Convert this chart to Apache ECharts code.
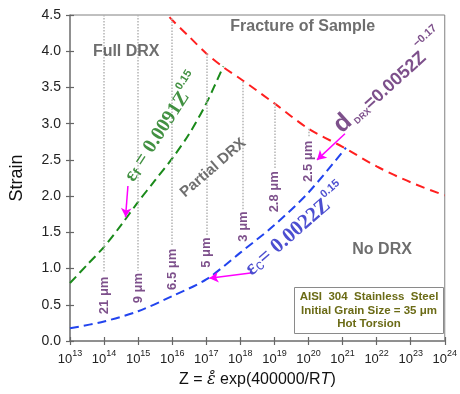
<!DOCTYPE html>
<html>
<head>
<meta charset="utf-8">
<script src="https://cdn.jsdelivr.net/npm/echarts@6/dist/echarts.min.js"></script>
<style>
  html, body { margin: 0; padding: 0; background: #fff; }
  #chart { width: 460px; height: 394px; }
</style>
</head>
<body>
<div id="chart"></div>
<script>
// Zener-Hollomon parameter given as log10(Z); strain on the y axis.
const fractureLogZ   = [15.92, 16, 16.5, 17, 17.5, 18, 19, 20, 21, 22, 23, 24];
const fractureStrain = [4.47, 4.43, 4.2, 3.97, 3.78, 3.62, 3.28, 2.93, 2.68, 2.41, 2.19, 2.01];

const fullDrxLogZ   = [13, 13.5, 14, 14.5, 15, 15.5, 16, 16.5, 17, 17.5];
const fullDrxStrain = [0.80, 1.05, 1.30, 1.60, 1.92, 2.22, 2.52, 2.86, 3.28, 3.79];

const criticalLogZ   = [13, 14, 15, 16, 17, 18, 19, 20, 21.1];
const criticalStrain = [0.175, 0.27, 0.41, 0.62, 0.85, 1.22, 1.60, 2.05, 2.67];

// DRX grain size read along constant-Z guides
const grainLogZ    = [14, 15, 16, 17, 18.08, 19, 20];
const grainLabels  = ['21 μm', '9 μm', '6.5 μm', '5 μm', '3 μm', '2.8 μm', '2.5 μm'];
const guideTop     = [4.5, 4.5, 4.45, 3.97, 3.58, 3.28, 2.93];
const guideBottom  = [0.95, 0.97, 1.32, 1.46, 1.82, 2.38, 2.82];
const grainLabelAt = [0.63, 0.73, 0.99, 1.22, 1.58, 2.06, 2.48];

const xTickExponents = [13, 14, 15, 16, 17, 18, 19, 20, 21, 22, 23, 24];
const yTicks = [0, 0.5, 1, 1.5, 2, 2.5, 3, 3.5, 4, 4.5];

const Z = e => Math.pow(10, e);
const pairs = (xs, ys) => xs.map((e, i) => [Z(e), ys[i]]);

const SANS = '"Liberation Sans", Arial, sans-serif';
const SERIF = '"Liberation Serif", "Times New Roman", serif';
const GREY_TEXT = '#4a4a4a';
const PURPLE = '#5c246e';

// Text placed in data space: [log10 Z, strain]
function note(pos, formatter, rotate, rich) {
  return {
    value: [Z(pos[0]), pos[1]],
    label: { show: true, position: 'inside', formatter, rotate, rich }
  };
}

const chart = echarts.init(document.getElementById('chart'), null, { renderer: 'canvas' });

const baseX = {
  type: 'log', logBase: 10, min: Z(xTickExponents[0]), max: Z(xTickExponents[xTickExponents.length - 1]),
  interval: 1, position: 'bottom', splitLine: { show: false }
};
const baseY = {
  type: 'value', min: yTicks[0], max: yTicks[yTicks.length - 1], interval: 0.5,
  position: 'left', splitLine: { show: false }
};

chart.setOption({
  animation: false,
  backgroundColor: '#fff',
  grid: { left: 70, right: 13, top: 15, bottom: 53, show: true, borderColor: '#808080', borderWidth: 1 },
  xAxis: [
    Object.assign({}, baseX, {
      axisLine: { lineStyle: { color: '#808080', width: 1.5 } },
      axisTick: { show: true, length: 4, lineStyle: { color: '#666', width: 1.2 } },
      axisLabel: {
        margin: 8,
        formatter: v => '{b|10}{s|' + Math.round(Math.log10(v)) + '}',
        rich: {
          b: { fontFamily: SANS, fontSize: 13, color: '#222', lineHeight: 17, verticalAlign: 'bottom' },
          s: { fontFamily: SANS, fontSize: 9, color: '#222', lineHeight: 10, verticalAlign: 'top' }
        }
      },
      name: '{n|Z = }{e|ε̊}{n| exp(400000/R}{i|T}{n|)}',
      nameLocation: 'middle', nameGap: 31,
      nameTextStyle: {
        rich: {
          n: { fontFamily: SANS, fontSize: 16, color: '#111' },
          e: { fontFamily: '"DejaVu Serif", serif', fontStyle: 'italic', fontSize: 16, color: '#111' },
          i: { fontFamily: SANS, fontStyle: 'italic', fontSize: 16, color: '#111' }
        }
      }
    }),
    Object.assign({}, baseX, {
      axisLine: { show: false },
      axisTick: { show: true, inside: true, length: 4, lineStyle: { color: '#666', width: 1.2 } },
      axisLabel: { show: false }
    })
  ],
  yAxis: [
    Object.assign({}, baseY, {
      axisLine: { show: true, lineStyle: { color: '#808080', width: 1.5 } },
      axisTick: { show: true, length: 4, lineStyle: { color: '#666', width: 1.2 } },
      axisLabel: { margin: 9, fontFamily: SANS, fontSize: 14, color: '#222', formatter: v => v.toFixed(1) },
      name: 'Strain', nameLocation: 'middle', nameGap: 44,
      nameTextStyle: { fontFamily: SANS, fontSize: 18, color: '#111' }
    }),
    Object.assign({}, baseY, {
      axisLine: { show: false },
      axisTick: { show: true, inside: true, length: 4, lineStyle: { color: '#666', width: 1.2 } },
      axisLabel: { show: false }
    })
  ],
  series: [
    {
      // constant-Z guides with DRX grain size
      type: 'scatter', symbolSize: 0, silent: true, z: 1,
      data: grainLogZ.map((e, i) => ({
        value: [Z(e), grainLabelAt[i]],
        label: {
          show: true, position: 'inside', rotate: 90, formatter: grainLabels[i],
          fontFamily: SANS, fontSize: 13, fontWeight: 'bold', color: PURPLE
        }
      })),
      markLine: {
        silent: true, symbol: ['none', 'none'], label: { show: false },
        lineStyle: { type: 'dotted', color: '#b4b4b4', width: 1.5 },
        data: grainLogZ.map((e, i) => [
          { coord: [Z(e), guideTop[i]] },
          { coord: [Z(e), guideBottom[i]] }
        ])
      }
    },
    {
      name: 'Fracture', type: 'line', smooth: 0.3, symbol: 'none', z: 3,
      lineStyle: { color: '#ff1f1f', width: 2, type: [9, 6] },
      data: pairs(fractureLogZ, fractureStrain)
    },
    {
      name: 'Full DRX', type: 'line', smooth: 0.3, symbol: 'none', z: 3,
      lineStyle: { color: '#1a8a1a', width: 2, type: [9, 5] },
      data: pairs(fullDrxLogZ, fullDrxStrain)
    },
    {
      name: 'Critical', type: 'line', smooth: 0.3, symbol: 'none', z: 3,
      lineStyle: { color: '#2244ee', width: 2, type: [9, 5] },
      data: pairs(criticalLogZ, criticalStrain)
    },
    {
      // pointers from the equations to their curves
      type: 'line', data: [], silent: true,
      markLine: {
        silent: true, symbol: ['none', 'arrow'], symbolSize: [8, 9], label: { show: false },
        lineStyle: { type: 'solid', color: '#ff00ff', width: 1.5 },
        data: [
          [{ coord: [Z(14.70), 2.14] }, { coord: [Z(14.63), 1.71] }],
          [{ coord: [Z(18.30), 0.94] }, { coord: [Z(17.09), 0.865] }],
          [{ coord: [Z(21.07), 2.86] }, { coord: [Z(20.25), 2.50] }]
        ]
      }
    },
    {
      type: 'scatter', symbolSize: 0, silent: true, z: 5,
      data: [
        note([14.65, 3.99], '{a|Full DRX}', 0,
          { a: { fontFamily: SANS, fontSize: 16, fontWeight: 'bold', color: GREY_TEXT } }),
        note([19.83, 4.34], '{a|Fracture of Sample}', 0,
          { a: { fontFamily: SANS, fontSize: 16, fontWeight: 'bold', color: GREY_TEXT } }),
        note([17.2, 2.39], '{a|Partial DRX}', 41,
          { a: { fontFamily: SANS, fontSize: 15, fontWeight: 'bold', color: GREY_TEXT } }),
        note([22.16, 1.26], '{a|No DRX}', 0,
          { a: { fontFamily: SANS, fontSize: 16, fontWeight: 'bold', color: GREY_TEXT } }),
        note([15.68, 2.96], '{e|ε}{b|f}{t| = 0.0091Z}{p|0.15}', 57, {
          e: { fontFamily: SERIF, fontSize: 20, fontWeight: 'bold', color: '#137513', lineHeight: 24, verticalAlign: 'bottom' },
          b: { fontFamily: SANS, fontSize: 13, fontWeight: 'bold', color: '#137513', lineHeight: 14, verticalAlign: 'bottom' },
          t: { fontFamily: SERIF, fontSize: 20, fontWeight: 'bold', color: '#137513', lineHeight: 24, verticalAlign: 'bottom' },
          p: { fontFamily: SANS, fontSize: 11, fontWeight: 'bold', color: '#137513', lineHeight: 12, verticalAlign: 'top' }
        }),
        note([19.6, 1.55], '{e|ε}{b|c}{t|= 0.0022Z}{p|0.15}', 41, {
          e: { fontFamily: SERIF, fontSize: 21, fontWeight: 'bold', color: '#1f22c4', lineHeight: 25, verticalAlign: 'bottom' },
          b: { fontFamily: SANS, fontSize: 15, color: '#1f22c4', lineHeight: 18, verticalAlign: 'bottom' },
          t: { fontFamily: SERIF, fontSize: 21, fontWeight: 'bold', color: '#1f22c4', lineHeight: 25, verticalAlign: 'bottom' },
          p: { fontFamily: SANS, fontSize: 11, fontWeight: 'bold', color: '#1f22c4', lineHeight: 12, verticalAlign: 'top' }
        }),
        note([22.35, 3.6], '{d|d}{b| DRX}{t|=0.0052Z}{p|\u22120.17}', 42, {
          d: { fontFamily: SANS, fontSize: 25, fontWeight: 'bold', color: PURPLE, lineHeight: 28, verticalAlign: 'bottom' },
          b: { fontFamily: SANS, fontSize: 9, fontWeight: 'bold', color: PURPLE, lineHeight: 10, verticalAlign: 'bottom' },
          t: { fontFamily: SANS, fontSize: 18, fontWeight: 'bold', color: PURPLE, lineHeight: 24, verticalAlign: 'bottom' },
          p: { fontFamily: SANS, fontSize: 11, fontWeight: 'bold', color: PURPLE, lineHeight: 12, verticalAlign: 'top' }
        })
      ]
    }
  ],
  graphic: [{
    type: 'group', left: 294, top: 287, z: 10,
    children: [
      { type: 'rect', shape: { x: 0, y: 0, width: 149, height: 46 },
        style: { fill: '#fff', stroke: '#8a8a8a', lineWidth: 1 } },
      { type: 'text', x: 74.5, y: 23,
        style: {
          text: 'AISI  304  Stainless  Steel\nInitial Grain Size = 35 μm\nHot Torsion',
          align: 'center', verticalAlign: 'middle', lineHeight: 13.5,
          font: 'bold 11.5px "Liberation Sans", Arial, sans-serif', fill: '#6b6b16'
        } }
    ]
  }]
});
</script>
</body>
</html>
